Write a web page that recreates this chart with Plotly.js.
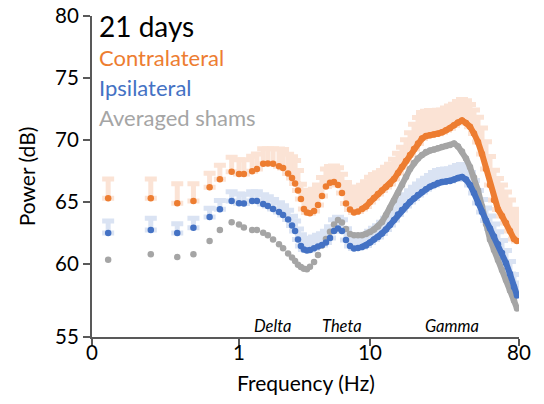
<!DOCTYPE html>
<html>
<head>
<meta charset="utf-8">
<script src="https://cdn.plot.ly/plotly-3.0.1.min.js"></script>
<style>html,body{margin:0;padding:0;background:#fff;}#chart{width:544px;height:404px;}</style>
</head>
<body>
<div id="chart"></div>
<script>
// Frequency bins (Hz)
const freqHz = [0.11,0.40,0.58,0.69,0.80,0.87,0.95,1.00,1.09,1.26,1.37,1.53,1.66,1.82,2.02,2.17,2.37,2.54,2.68,2.82,2.97,3.13,3.30,
  3.48,3.74,4.01,4.30,4.61,4.95,5.31,5.70,6.11,6.56,7.04,7.55,8.10,8.69,9.32,
  10.00,
  10.57,11.18,11.82,12.50,13.22,13.98,14.78,15.63,16.53,17.48,18.48,19.54,20.66,21.85,23.10,24.43,25.83,27.31,28.88,30.53,32.29,34.14,36.10,38.17,40.37,42.68,45.13,47.72,50.46,53.35,56.42,59.66,63.10,66.71,70.54,74.59,
  77.81];

// Power (dB)
const contralateral = [65.30,65.30,64.90,65.08,66.19,66.83,67.44,67.26,67.26,67.48,67.66,68.09,68.10,68.09,67.88,67.74,67.30,66.94,66.49,65.93,65.24,64.44,64.15,
  64.09,64.27,64.76,65.48,66.25,66.56,66.61,66.37,65.73,64.88,64.40,64.15,64.23,64.44,64.64,
  65.00,
  65.32,65.65,65.93,66.21,66.45,66.85,67.34,67.82,68.31,68.79,69.27,69.72,70.12,70.32,70.38,70.44,70.50,70.62,70.78,70.94,71.19,71.41,71.57,71.37,71.07,70.52,69.84,68.87,67.66,66.37,65.16,64.40,63.87,63.31,62.66,62.02,
  61.85];
const contralateralErr = [1.56,1.56,1.58,1.40,1.13,1.13,1.16,1.15,1.15,1.20,1.20,1.20,1.20,1.20,1.40,1.50,1.55,1.70,1.85,1.60,1.20,1.50,1.70,
  1.75,1.75,1.60,1.50,1.40,1.30,1.30,1.40,1.50,1.70,1.80,1.80,1.80,1.90,2.00,
  2.00,
  1.90,1.70,1.60,1.60,1.60,1.60,1.60,1.60,1.70,1.80,2.00,2.10,2.10,2.00,2.00,1.90,1.90,1.80,1.80,1.80,1.70,1.70,1.70,1.80,1.80,1.90,2.00,2.10,2.20,2.30,2.40,2.50,2.50,2.50,2.50,2.40,
  2.30];

const ipsilateral = [62.50,62.74,62.50,62.93,63.79,64.42,65.08,64.90,64.87,65.08,65.08,64.84,64.68,64.44,64.19,63.95,63.59,63.10,62.66,61.98,61.45,61.17,61.09,
  61.13,61.27,61.41,61.53,61.73,62.10,62.66,62.86,62.66,61.94,61.45,61.25,61.29,61.37,61.49,
  61.73,
  61.98,62.18,62.46,62.78,63.15,63.55,63.99,64.35,64.68,65.00,65.28,65.56,65.81,66.02,66.23,66.37,66.53,66.61,66.65,66.69,66.81,66.94,67.02,66.81,66.37,65.73,64.92,64.19,63.51,62.86,62.22,61.59,60.89,60.08,59.19,58.15,
  57.46];
const ipsilateralErr = [0.97,0.94,0.75,0.76,0.70,0.70,0.75,0.75,0.75,0.75,0.75,0.75,0.75,0.75,0.75,0.75,0.75,0.75,0.80,0.85,0.90,0.90,0.90,
  0.90,0.90,0.90,0.90,0.90,0.90,0.90,0.90,0.90,0.90,0.90,0.90,0.90,0.90,0.90,
  0.90,
  0.90,0.90,0.90,0.90,0.90,0.90,0.90,0.90,0.90,0.90,0.90,0.90,0.90,0.90,0.90,1.00,1.00,1.00,1.00,1.00,1.00,1.00,1.00,1.00,1.00,1.00,1.00,1.00,1.00,1.00,1.00,1.00,1.00,1.00,1.00,1.00,
  1.00];

const shams = [60.35,60.78,60.56,60.78,61.85,62.73,63.36,63.19,62.94,62.74,62.74,62.52,62.32,61.98,61.59,61.27,60.85,60.52,60.24,59.94,59.76,59.62,59.57,
  59.78,60.16,60.73,61.49,62.02,62.60,63.19,63.55,63.35,62.82,62.42,62.32,62.32,62.32,62.42,
  62.58,
  62.78,63.02,63.39,63.95,64.52,65.12,65.73,66.37,67.02,67.66,68.15,68.51,68.79,69.03,69.15,69.23,69.33,69.44,69.52,69.60,69.72,69.48,69.07,68.51,67.82,66.98,65.93,64.64,63.23,61.98,61.13,60.32,59.52,58.71,57.86,57.06,
  56.41];

// Axis tick labels
const xTickFreqs = [0, 1, 10, 80];
const xTickText = ['0', '1', '10', '80'];
const yTickVals = [54.11, 60, 65, 70, 75, 80];
const yTickText = ['55', '60', '65', '70', '75', '80'];

// Band labels
const bandNames = ['Delta', 'Theta', 'Gamma'];
const bandFreqs = [1.8, 6.1, 31.4];

const COL_C = '#ED7D31', COL_I = '#4472C4', COL_S = '#A5A5A5';
const BAND_C = '#FBE3D5', BAND_I = '#DAE3F3';

// Frequency axis: linear from 0 to 1 Hz, then logarithmic segments
function freqToPos(f) {
  if (f <= 1) return 147 * f;
  if (f <= 10) return 147 + 131 * Math.log10(f);
  return 278 + 165 * Math.log10(f / 10);
}
const xPos = freqHz.map(freqToPos);
const denseIdx = freqHz.map((f, i) => i).filter(i => freqHz[i] >= 8.5);
const pick = (arr) => denseIdx.map(i => arr[i]);

const zeros = freqHz.map(() => 0);
const FONT = 'Lato, "Open Sans", sans-serif';

function bandTrace(y, err, col) {
  return {
    x: xPos, y: y, type: 'scatter', mode: 'markers',
    marker: {size: 2, color: 'rgba(0,0,0,0)'},
    error_y: {type: 'data', symmetric: false, array: err, arrayminus: zeros,
      color: col, thickness: 5, width: 6},
    hoverinfo: 'skip', showlegend: false
  };
}
function lineTrace(y, col) {
  return {x: pick(xPos), y: pick(y), type: 'scatter', mode: 'lines',
    line: {color: col, width: 6}, hoverinfo: 'skip', showlegend: false};
}
function dotTrace(y, col) {
  return {x: xPos, y: y, type: 'scatter', mode: 'markers',
    marker: {color: col, size: 6.5}, showlegend: false};
}

const data = [
  bandTrace(contralateral, contralateralErr, BAND_C),
  bandTrace(ipsilateral, ipsilateralErr, BAND_I),
  lineTrace(shams, COL_S), dotTrace(shams, COL_S),
  lineTrace(ipsilateral, COL_I), dotTrace(ipsilateral, COL_I),
  lineTrace(contralateral, COL_C), dotTrace(contralateral, COL_C)
];

const legendItems = [
  {text: '21 days', color: '#000000', size: 28, y: 0.969},
  {text: 'Contralateral', color: COL_C, size: 22, y: 0.872},
  {text: 'Ipsilateral', color: COL_I, size: 22, y: 0.776},
  {text: 'Averaged shams', color: COL_S, size: 22, y: 0.685}
];

const annotations = legendItems.map(it => ({
  text: it.text, xref: 'paper', yref: 'paper', x: 0.012, y: it.y,
  xanchor: 'left', yanchor: 'middle', showarrow: false,
  font: {family: FONT, size: it.size, color: it.color}
})).concat(bandNames.map((b, i) => ({
  text: '<i>' + b + '</i>', xref: 'x', yref: 'paper', x: freqToPos(bandFreqs[i]), y: 0.0,
  xanchor: 'center', yanchor: 'bottom', yshift: -1, showarrow: false,
  font: {family: FONT, size: 16.5, color: '#000000'}
}))).concat([{
  text: 'Frequency (Hz)', xref: 'paper', yref: 'paper', x: 0.5, y: -0.143,
  xanchor: 'center', yanchor: 'middle', showarrow: false,
  font: {family: FONT, size: 21, color: '#000000'}
}]);

const layout = {
  width: 544, height: 404,
  margin: {l: 92, r: 25, t: 16, b: 67},
  paper_bgcolor: '#ffffff', plot_bgcolor: '#ffffff',
  font: {family: FONT, color: '#000000'},
  showlegend: false,
  xaxis: {
    range: [0, 427], tickmode: 'array', tickvals: xTickFreqs.map(freqToPos), ticktext: xTickText,
    showgrid: false, zeroline: false, showline: true, linecolor: '#595959', linewidth: 2,
    ticks: 'outside', ticklen: 7, tickwidth: 2, tickcolor: '#595959', ticklabelstandoff: -11,
    tickfont: {family: FONT, size: 20.5, color: '#000000'}
  },
  yaxis: {
    range: [54.11, 80], tickmode: 'array', tickvals: yTickVals, ticktext: yTickText,
    showgrid: false, zeroline: false, showline: true, linecolor: '#595959', linewidth: 2,
    ticks: 'outside', ticklen: 7, tickwidth: 2, tickcolor: '#595959',
    tickfont: {family: FONT, size: 20.5, color: '#000000'},
    title: {text: 'Power (dB)', font: {family: FONT, size: 21, color: '#000000'}, standoff: 14}
  },
  annotations: annotations
};

Plotly.newPlot('chart', data, layout, {staticPlot: true, displayModeBar: false});
</script>
</body>
</html>
